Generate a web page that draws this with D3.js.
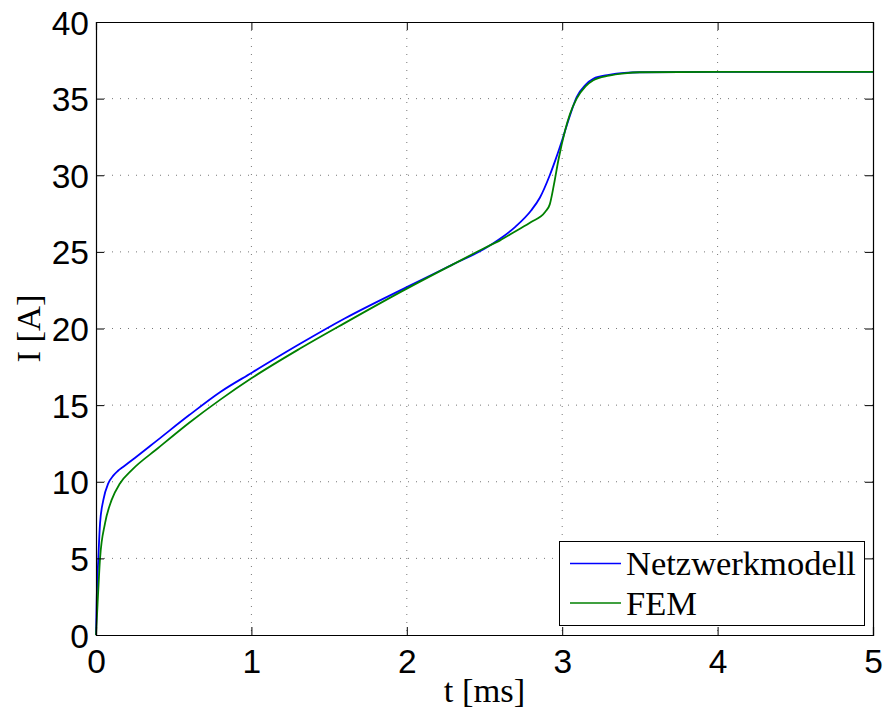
<!DOCTYPE html>
<html>
<head>
<meta charset="utf-8">
<script src="https://cdn.jsdelivr.net/npm/d3@7"></script>
<style>
  html, body { margin: 0; padding: 0; background: #fff; }
  svg { display: block; }
</style>
</head>
<body>
<svg id="chart" width="883" height="711"></svg>
<script>
// Current rise I(t) — network model vs. finite element simulation
const netzTime = [0, 0.005, 0.015, 0.026, 0.047, 0.079, 0.111, 0.14, 0.176, 0.25, 0.4, 0.6, 0.8, 1.0, 1.313, 1.6, 2.0, 2.3, 2.5, 2.6, 2.7, 2.8, 2.857, 2.92, 2.96, 3.0, 3.05, 3.093, 3.15, 3.2, 3.3, 3.4, 3.5, 4.0, 5.0];
const netzCurrent = [0, 2.5, 5.0, 7.28, 8.8, 9.89, 10.4, 10.7, 10.98, 11.55, 12.75, 14.35, 15.86, 17.1, 19.0, 20.65, 22.7, 24.2, 25.2, 25.85, 26.65, 27.7, 28.55, 30.0, 31.1, 32.3, 33.9, 35.1, 35.9, 36.3, 36.55, 36.68, 36.72, 36.75, 36.75];

const femTime = [0, 0.01, 0.026, 0.058, 0.10, 0.154, 0.23, 0.4, 0.6, 0.8, 1.0, 1.313, 1.6, 2.0, 2.3, 2.5, 2.6, 2.7, 2.8, 2.89, 2.92, 2.947, 2.975, 3.018, 3.05, 3.093, 3.15, 3.2, 3.3, 3.4, 3.5, 4.0, 5.0];
const femCurrent = [0, 2.0, 5.0, 7.28, 8.8, 9.89, 10.76, 12.2, 13.85, 15.36, 16.75, 18.69, 20.35, 22.6, 24.2, 25.25, 25.75, 26.35, 26.95, 27.6, 28.1, 29.4, 30.96, 32.9, 34.0, 35.0, 35.8, 36.2, 36.5, 36.65, 36.72, 36.75, 36.75];

const xTicks = [0, 1, 2, 3, 4, 5];
const yTicks = [0, 5, 10, 15, 20, 25, 30, 35, 40];
const seriesNames = ["Netzwerkmodell", "FEM"];
const seriesColors = ["#0000ff", "#008000"];
const xLabel = "t [ms]";
const yLabel = "I [A]";

const svg = d3.select("#chart");
const plotLeft = 96, plotRight = 873, plotTop = 22, plotBottom = 635;

const x = d3.scaleLinear().domain([0, 5]).range([plotLeft, plotRight]);
const y = d3.scaleLinear().domain([0, 40]).range([plotBottom, plotTop]);

const sansFont = "'Liberation Sans', Arial, Helvetica, sans-serif";
const serifFont = "'Liberation Serif', 'Times New Roman', serif";

// dotted grid
const grid = svg.append("g");
grid.selectAll("line.gx").data(xTicks.slice(1, -1)).join("line")
  .attr("x1", d => x(d)).attr("x2", d => x(d))
  .attr("y1", plotTop).attr("y2", plotBottom)
  .attr("stroke", "#777").attr("stroke-width", 1).attr("stroke-dasharray", "1,7");
grid.selectAll("line.gy").data(yTicks.slice(1, -1)).join("line")
  .attr("y1", d => y(d)).attr("y2", d => y(d))
  .attr("x1", plotLeft).attr("x2", plotRight)
  .attr("stroke", "#777").attr("stroke-width", 1).attr("stroke-dasharray", "1,7");

// curves
const line = d3.line().x(d => x(d[0])).y(d => y(d[1])).curve(d3.curveMonotoneX);
const series = [
  d3.zip(netzTime, netzCurrent),
  d3.zip(femTime, femCurrent)
];
series.forEach((s, i) => {
  svg.append("path").datum(s)
    .attr("d", line)
    .attr("fill", "none")
    .attr("stroke", seriesColors[i])
    .attr("stroke-width", 1.8)
    .attr("stroke-linejoin", "round");
});

// axes: inward ticks on all four sides
const tickLen = 8;
const axisBottom = d3.axisBottom(x).tickValues(xTicks).tickSize(-tickLen).tickPadding(14).tickFormat(d3.format("d"));
const axisTop = d3.axisTop(x).tickValues(xTicks).tickSize(-tickLen).tickFormat("");
const axisLeft = d3.axisLeft(y).tickValues(yTicks).tickSize(-tickLen).tickPadding(7).tickFormat(d3.format("d"));
const axisRight = d3.axisRight(y).tickValues(yTicks).tickSize(-tickLen).tickFormat("");

function styleAxis(g) {
  g.select(".domain").attr("stroke", "#000").attr("stroke-width", 1.2);
  g.selectAll(".tick line").attr("stroke", "#000").attr("stroke-width", 1);
  g.selectAll(".tick text").attr("fill", "#000")
    .style("font-family", sansFont).style("font-size", "33.5px");
}

svg.append("g").attr("transform", `translate(0,${plotBottom})`).call(axisBottom).call(styleAxis)
  .selectAll(".tick text").attr("dy", "0.71em");
svg.append("g").attr("transform", `translate(0,${plotTop})`).call(axisTop).call(styleAxis);
svg.append("g").attr("transform", `translate(${plotLeft},0)`).call(axisLeft).call(styleAxis)
  .selectAll(".tick text").attr("dy", "0.36em");
svg.append("g").attr("transform", `translate(${plotRight},0)`).call(axisRight).call(styleAxis);

// axis titles
svg.append("text")
  .attr("x", (plotLeft + plotRight) / 2).attr("y", 702)
  .attr("text-anchor", "middle")
  .style("font-family", serifFont).style("font-size", "34.5px")
  .text(xLabel);
svg.append("text")
  .attr("transform", `translate(40,${(plotTop + plotBottom) / 2}) rotate(-90)`)
  .attr("text-anchor", "middle")
  .style("font-family", serifFont).style("font-size", "34.5px")
  .text(yLabel);

// legend
const legend = svg.append("g");
legend.append("rect")
  .attr("x", 559.5).attr("y", 541.5).attr("width", 305).attr("height", 84)
  .attr("fill", "#fff").attr("stroke", "#000").attr("stroke-width", 1);
seriesNames.forEach((name, i) => {
  const cy = 563.5 + i * 39.5;
  legend.append("line")
    .attr("x1", 570).attr("x2", 621).attr("y1", cy).attr("y2", cy)
    .attr("stroke", seriesColors[i]).attr("stroke-width", 1.5);
  legend.append("text")
    .attr("x", 626).attr("y", cy + 11.5)
    .style("font-family", serifFont).style("font-size", "34.5px")
    .text(name);
});
</script>
</body>
</html>
